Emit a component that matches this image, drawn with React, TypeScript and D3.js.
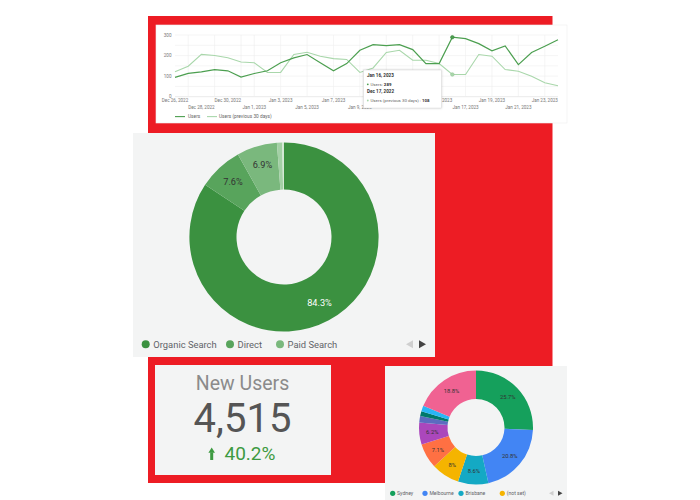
import React from "react";
import * as d3 from "d3";

// ---------- Data ----------
const dates = [
  "2022-12-26", "2022-12-27", "2022-12-28", "2022-12-29", "2022-12-30", "2022-12-31",
  "2023-01-01", "2023-01-02", "2023-01-03", "2023-01-04", "2023-01-05", "2023-01-06",
  "2023-01-07", "2023-01-08", "2023-01-09", "2023-01-10", "2023-01-11", "2023-01-12",
  "2023-01-13", "2023-01-14", "2023-01-15", "2023-01-16", "2023-01-17", "2023-01-18",
  "2023-01-19", "2023-01-20", "2023-01-21", "2023-01-22", "2023-01-23", "2023-01-24",
];
const users = [94, 113, 121, 132, 126, 95, 113, 126, 165, 189, 205, 165, 126, 161, 226, 253, 248, 253, 229, 161, 161, 289, 282, 258, 223, 247, 156, 215, 245, 277];
const prevUsers = [121, 148, 206, 200, 189, 169, 165, 118, 118, 205, 216, 197, 185, 181, 118, 140, 215, 226, 177, 177, 161, 108, 108, 205, 197, 132, 124, 100, 68, 53];
const yTicks = [0, 100, 200, 300];
const yGrid = [0, 50, 100, 150, 200, 250, 300];
const xLabelsRow1 = ["Dec 26, 2022", "Dec 30, 2022", "Jan 3, 2023", "Jan 7, 2023", "Jan 11, 2023", "Jan 15, 2023", "Jan 19, 2023", "Jan 23, 2023"];
const xLabelsRow2 = ["Dec 28, 2022", "Jan 1, 2023", "Jan 5, 2023", "Jan 9, 2023", "Jan 13, 2023", "Jan 17, 2023", "Jan 21, 2023"];
const seriesNames = ["Users", "Users (previous 30 days)"];
const hoverIndex = 21;
const hoverPrevLabel = "Dec 17, 2022";

const channels = ["Organic Search", "Direct", "Paid Search", "Referral", "Other"];
const channelShares = [84.3, 7.6, 6.9, 0.9, 0.3];
const channelColors = ["#3b9140", "#58a45c", "#7ab87d", "#a3d0a5", "#d3e9d4"];

const newUsersTitle = "New Users";
const newUsersValue = 4515;
const newUsersChange = 40.2;

const cities = ["Sydney", "Melbourne", "Brisbane", "(not set)", "Perth", "Adelaide", "Canberra", "Gold Coast", "Hobart", "Other"];
const cityShares = [25.7, 20.8, 8.6, 8, 7.1, 6.2, 1.8, 1.4, 1.6, 18.8];
const cityColors = ["#15a05c", "#4285f4", "#14a9c4", "#f5b400", "#ff7043", "#ab47bc", "#5c6bc0", "#00796b", "#29b6f6", "#f06292"];

const FONT = "Roboto, 'Noto Sans', sans-serif";

// tooltip box (hover state of the line chart)
const TIP = { x: 363.5, y: 70, w: 78, h: 38 };

function LineCard() {
  const parse = d3.timeParse("%Y-%m-%d");
  const parseLabel = d3.timeParse("%b %d, %Y");
  const ds = dates.map((d) => parse(d) as Date);
  const x = d3.scaleTime().domain([ds[0], ds[ds.length - 1]]).range([175, 558]);
  const y = d3.scaleLinear().domain([0, 300]).range([96.7, 35]);
  const lineGen = d3
    .line<number>()
    .x((_, i) => x(ds[i]))
    .y((v) => y(v));
  const gridDays = d3.timeDay.every(2)!.range(ds[0], ds[ds.length - 1]);
  const hx = x(ds[hoverIndex]);
  const fmtDate = d3.timeFormat("%b %-d, %Y");
  // labels fully hidden by the tooltip are not visible in the reference
  const visible = (l: string) => {
    const px = x(parseLabel(l) as Date);
    return px < TIP.x + 6 || px > TIP.x + TIP.w - 6;
  };
  return (
    <g fontFamily={FONT}>
      <rect x={156} y={25} width={411} height={98} fill="#ffffff" stroke="#eeeeee" strokeWidth={0.6} />
      {yGrid.map((t) => (
        <line key={"h" + t} x1={175} x2={558} y1={y(t)} y2={y(t)} stroke={t === 0 ? "#dcdcdc" : "#eeeeee"} strokeWidth={0.6} />
      ))}
      {gridDays.map((d, i) => (
        <line key={"v" + i} x1={x(d)} x2={x(d)} y1={y(300)} y2={y(0)} stroke="#eeeeee" strokeWidth={0.6} />
      ))}
      {yTicks.map((t) => (
        <text key={"yt" + t} x={171.5} y={y(t) + 1.6} fontSize={4.6} fill="#777" textAnchor="end">
          {t}
        </text>
      ))}
      {xLabelsRow1.filter(visible).map((l) => (
        <text key={l} x={x(parseLabel(l) as Date)} y={102.3} fontSize={4.6} fill="#777" textAnchor="middle">
          {l}
        </text>
      ))}
      {xLabelsRow2.filter(visible).map((l) => (
        <text key={l} x={x(parseLabel(l) as Date)} y={108.8} fontSize={4.6} fill="#777" textAnchor="middle">
          {l}
        </text>
      ))}
      <path d={lineGen(prevUsers) || ""} fill="none" stroke="#a9d7ab" strokeWidth={1.1} />
      <path d={lineGen(users) || ""} fill="none" stroke="#4c9f50" strokeWidth={1.2} />
      <circle cx={hx} cy={y(users[hoverIndex])} r={1.8} fill="#4c9f50" stroke="#2e7d32" strokeWidth={0.5} />
      <circle cx={hx} cy={y(prevUsers[hoverIndex])} r={1.8} fill="#a9d7ab" stroke="#8cbf8f" strokeWidth={0.5} />
      {/* legend */}
      <line x1={175} x2={185} y1={116.6} y2={116.6} stroke="#4c9f50" strokeWidth={1.1} />
      <text x={188} y={118.2} fontSize={4.8} fill="#666">{seriesNames[0]}</text>
      <line x1={207} x2={217} y1={116.6} y2={116.6} stroke="#a9d7ab" strokeWidth={1.1} />
      <text x={219} y={118.2} fontSize={4.8} fill="#666">{seriesNames[1]}</text>
      {/* tooltip */}
      <g>
        <rect x={TIP.x} y={TIP.y} width={TIP.w} height={TIP.h} fill="#ffffff" stroke="#d8d8d8" strokeWidth={0.5} style={{ filter: "drop-shadow(0px 0.5px 1px rgba(0,0,0,0.18))" }} />
        <text x={367} y={76.6} fontSize={4.6} fontWeight="bold" fill="#333">{fmtDate(ds[hoverIndex])}</text>
        <circle cx={367.8} cy={84.3} r={0.9} fill="#4c9f50" />
        <text x={370.5} y={85.9} fontSize={4.4} fill="#666">
          {seriesNames[0]}: <tspan fontWeight="bold" fill="#333">{users[hoverIndex]}</tspan>
        </text>
        <text x={367} y={93.3} fontSize={4.6} fontWeight="bold" fill="#333">{hoverPrevLabel}</text>
        <circle cx={367.8} cy={100.5} r={0.9} fill="#a9d7ab" />
        <text x={370.5} y={102.1} fontSize={4.4} fill="#666">
          {seriesNames[1]} : <tspan fontWeight="bold" fill="#333">{prevUsers[hoverIndex]}</tspan>
        </text>
      </g>
    </g>
  );
}

function ChannelCard() {
  const cx = 284, cy = 237, R = 94.6, r = 47.5;
  const pie = d3.pie<number>().sort(null).value((d) => d);
  const arcs = pie(channelShares);
  const arc = d3.arc<d3.PieArcDatum<number>>().innerRadius(r).outerRadius(R);
  const labelArc = d3.arc<d3.PieArcDatum<number>>().innerRadius(75).outerRadius(75);
  const legendX = [145.7, 230, 280];
  return (
    <g fontFamily={FONT}>
      <rect x={133} y={133} width={302} height={224} fill="#f3f4f4" />
      <g transform={`translate(${cx},${cy})`}>
        {arcs.map((a, i) => (
          <path key={i} d={arc(a) || ""} fill={channelColors[i]} />
        ))}
        {arcs.map((a, i) =>
          channelShares[i] >= 5 ? (
            <text
              key={"l" + i}
              x={labelArc.centroid(a)[0]}
              y={labelArc.centroid(a)[1] + 3.2}
              fontSize={9.2}
              textAnchor="middle"
              fill={i === 0 ? "#ffffff" : "#333333"}
            >
              {channelShares[i]}%
            </text>
          ) : null
        )}
      </g>
      {legendX.map((lx, i) => (
        <g key={"lg" + i}>
          <circle cx={lx} cy={344.3} r={4} fill={channelColors[i]} />
          <text x={lx + 7.6} y={347.6} fontSize={9.4} fill="#5f6368">{channels[i]}</text>
        </g>
      ))}
      <path d="M406,344.3 L413,340.3 L413,348.3 Z" fill="#cfcfcf" />
      <path d="M426,344.3 L419,340.3 L419,348.3 Z" fill="#444" />
    </g>
  );
}

function ScoreCard() {
  const fmt = d3.format(",");
  return (
    <g fontFamily={FONT}>
      <rect x={155} y={365} width={176} height={110} fill="#f3f4f4" />
      <text x={242.5} y={390} fontSize={19.5} fill="#8b8b8b" textAnchor="middle">{newUsersTitle}</text>
      <text x={242.5} y={431.5} fontSize={40} fill="#555555" textAnchor="middle">{fmt(newUsersValue)}</text>
      <path d="M208.4,452.8 L211.7,447.6 L215,452.8 Z" fill="#3d9a41" />
      <rect x={210.2} y={452.4} width={3} height={7.6} fill="#3d9a41" />
      <text x={224.5} y={460} fontSize={19} fill="#3d9a41">{newUsersChange}%</text>
    </g>
  );
}

function CityCard() {
  const cx = 476, cy = 427.5, R = 57, r = 28.5;
  const pie = d3.pie<number>().sort(null).value((d) => d);
  const arcs = pie(cityShares);
  const arc = d3.arc<d3.PieArcDatum<number>>().innerRadius(r).outerRadius(R);
  const labelArc = d3.arc<d3.PieArcDatum<number>>().innerRadius(44).outerRadius(44);
  const legendX = [392.7, 425, 461, 502.3];
  return (
    <g fontFamily={FONT}>
      <rect x={385} y={366} width={182} height={140} fill="#f3f4f4" />
      <g transform={`translate(${cx},${cy})`}>
        {arcs.map((a, i) => (
          <path key={i} d={arc(a) || ""} fill={cityColors[i]} />
        ))}
        {arcs.map((a, i) =>
          cityShares[i] >= 5 ? (
            <text
              key={"l" + i}
              x={labelArc.centroid(a)[0]}
              y={labelArc.centroid(a)[1] + 2}
              fontSize={5.8}
              textAnchor="middle"
              fill="#333333"
            >
              {cityShares[i]}%
            </text>
          ) : null
        )}
      </g>
      {legendX.map((lx, i) => (
        <g key={"lg" + i}>
          <circle cx={lx} cy={493.3} r={2.6} fill={cityColors[i]} />
          <text x={lx + 4.4} y={495.1} fontSize={5.1} fill="#5f6368">{cities[i]}</text>
        </g>
      ))}
      <path d="M549,493.3 L553.5,490.8 L553.5,495.8 Z" fill="#cfcfcf" />
      <path d="M562.5,493.3 L558,490.8 L558,495.8 Z" fill="#444" />
    </g>
  );
}

export default function App() {
  return (
    <svg
      width={700}
      height={500}
      viewBox="0 0 700 500"
      style={{ position: "absolute", left: 0, top: 0, display: "block", background: "#ffffff" }}
    >
      <rect x={0} y={0} width={700} height={500} fill="#ffffff" />
      <rect x={148} y={16} width={404.5} height={467} fill="#ed1c24" />
      <LineCard />
      <ChannelCard />
      <ScoreCard />
      <CityCard />
    </svg>
  );
}
